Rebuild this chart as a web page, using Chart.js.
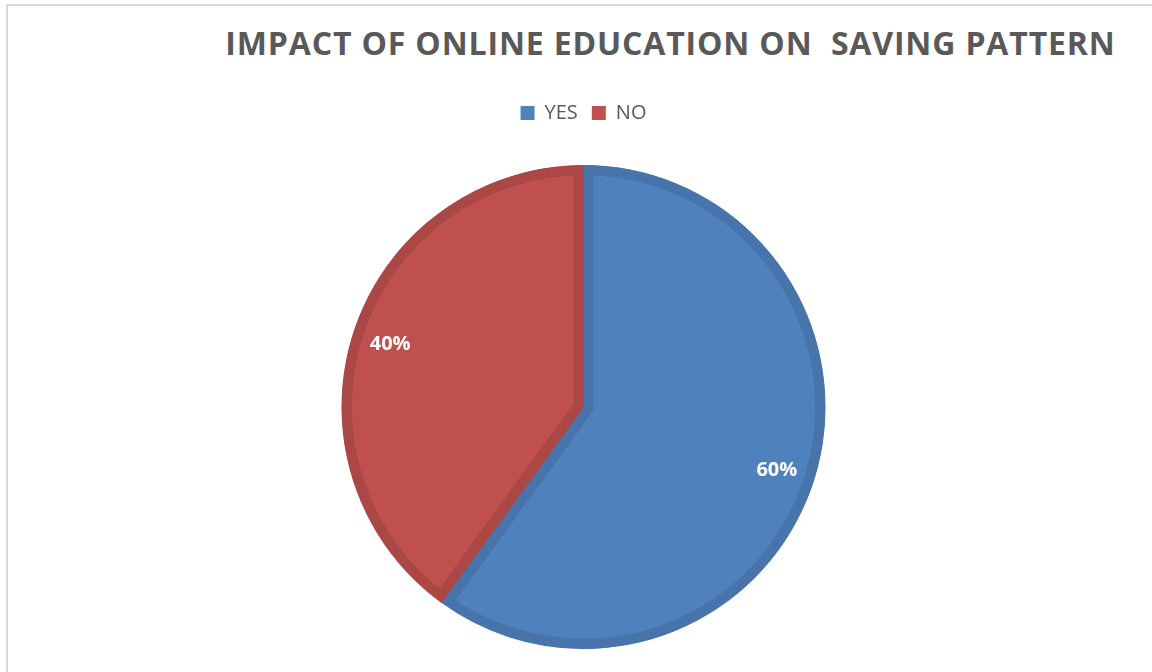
<!DOCTYPE html>
<html>
<head>
<meta charset="utf-8">
<script src="https://cdn.jsdelivr.net/npm/chart.js"></script>
<style>
  html, body { margin: 0; padding: 0; background: #fff; overflow: hidden; width: 1152px; height: 672px; }
  #frame { position: absolute; left: 6px; top: 4px; width: 1400px; height: 800px; border: 2px solid #d9d9d9; }
  #title {
    position: absolute; left: 0; top: 27px; width: 1341px; text-align: center;
    font-family: "Open Sans", sans-serif; font-weight: bold; font-size: 32px; line-height: 1;
    color: #595959; white-space: nowrap; letter-spacing: 0.85px;
  }
  #pie { position: absolute; left: 0; top: 0; }
</style>
</head>
<body>
<div id="frame"></div>
<div id="title">IMPACT OF ONLINE EDUCATION ON&nbsp; SAVING PATTERN</div>
<canvas id="pie" width="1167" height="700"></canvas>
<script>
// answers to "did online education change your saving pattern"
const categories = ["YES", "NO"];
const shares = [60, 40];
const fillColors = ["#4f81bd", "#c0504d"];
const edgeColors = ["#4674ab", "#ab4744"];

// percent labels drawn inside each slice
const sliceLabels = {
  id: "sliceLabels",
  afterDatasetsDraw(chart) {
    const ctx = chart.ctx;
    const total = shares.reduce((a, b) => a + b, 0);
    chart.getDatasetMeta(0).data.forEach((arc, i) => {
      const p = arc.getProps(["x", "y", "startAngle", "endAngle", "outerRadius"], true);
      const mid = (p.startAngle + p.endAngle) / 2;
      const r = p.outerRadius * 0.84;
      ctx.save();
      ctx.font = "bold 20px 'Open Sans', sans-serif";
      ctx.fillStyle = "#ffffff";
      ctx.textAlign = "center";
      ctx.textBaseline = "middle";
      ctx.fillText(Math.round(shares[i] / total * 100) + "%", p.x + Math.cos(mid) * r, p.y + Math.sin(mid) * r);
      ctx.restore();
    });
  }
};

new Chart(document.getElementById("pie"), {
  type: "pie",
  data: {
    labels: categories,
    datasets: [{
      data: shares,
      backgroundColor: fillColors,
      borderColor: edgeColors,
      borderWidth: 10,
      borderAlign: "inner"
    }]
  },
  options: {
    responsive: false,
    animation: false,
    radius: 242,
    layout: { padding: { top: 89, bottom: 19 } },
    plugins: {
      title: { display: false },
      tooltip: { enabled: false },
      legend: {
        position: "top",
        labels: {
          boxWidth: 14,
          boxHeight: 14,
          padding: 14,
          color: "#595959",
          font: { family: "'Open Sans', sans-serif", size: 20 },
          generateLabels(chart) {
            const items = Chart.controllers.pie.overrides.plugins.legend.labels.generateLabels(chart);
            items.forEach(it => { it.lineWidth = 0; it.strokeStyle = it.fillStyle; });
            return items;
          }
        }
      }
    }
  },
  plugins: [sliceLabels]
});
</script>
</body>
</html>
